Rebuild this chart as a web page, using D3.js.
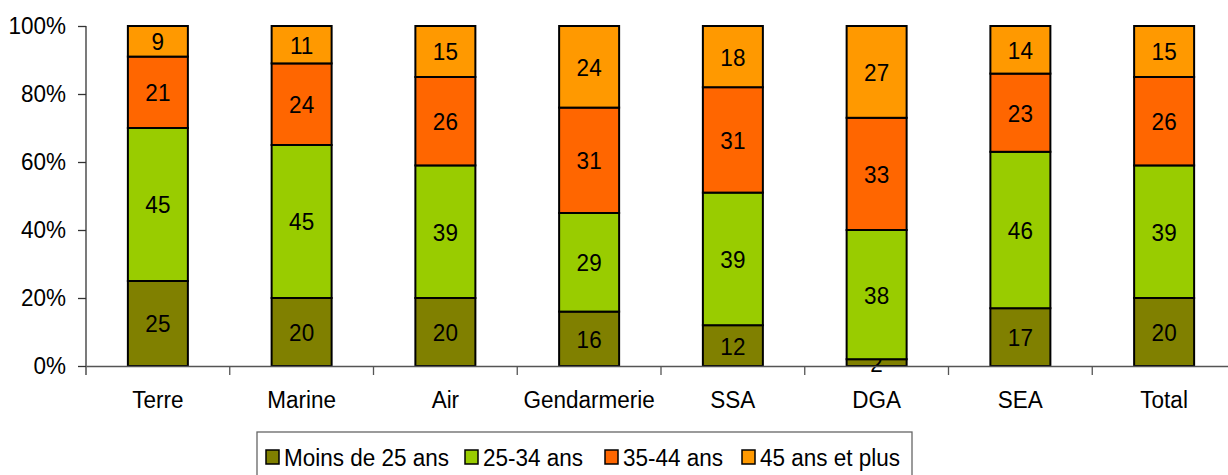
<!DOCTYPE html>
<html>
<head>
<meta charset="utf-8">
<script src="https://cdn.jsdelivr.net/npm/d3@7"></script>
<style>
  html, body { margin: 0; padding: 0; background: #fff; }
  svg { display: block; font-family: "Liberation Sans", Arial, sans-serif; }
</style>
</head>
<body>
<svg id="chart" width="1228" height="475"></svg>
<script>
// Répartition par tranche d'âge (en %)
const categories = ["Terre", "Marine", "Air", "Gendarmerie", "SSA", "DGA", "SEA", "Total"];
const seriesNames = ["Moins de 25 ans", "25-34 ans", "35-44 ans", "45 ans et plus"];
const moins25 = [25, 20, 20, 16, 12, 2, 17, 20];
const de25a34 = [45, 45, 39, 29, 39, 38, 46, 39];
const de35a44 = [21, 24, 26, 31, 31, 33, 23, 26];
const plus45  = [9, 11, 15, 24, 18, 27, 14, 15];
const yTicks = [0, 20, 40, 60, 80, 100];
const colors = ["#808000", "#99CC00", "#FF6600", "#FF9900"];

const seriesValues = [moins25, de25a34, de35a44, plus45];
const rows = categories.map((c, i) => {
  const r = { cat: c };
  seriesNames.forEach((s, k) => { r[s] = seriesValues[k][i]; });
  return r;
});

const FONT = "'Liberation Sans', Arial, sans-serif";
const FS = 22.5;      // font size
const SY = 1.1;       // slightly tall lettering

const svg = d3.select("#chart");
const plotLeft = 86, plotRight = 1236, plotTop = 26, plotBottom = 366;

const x = d3.scaleBand().domain(categories).range([plotLeft, plotRight]).paddingInner(0).paddingOuter(0);
const y = d3.scaleLinear().domain([0, 100]).range([plotBottom, plotTop]);
const barW = 60;

const stacked = d3.stack().keys(seriesNames)(rows);

// Bars
const layers = svg.append("g").selectAll("g")
  .data(stacked).join("g")
  .attr("fill", (d, i) => colors[i]);

layers.selectAll("rect")
  .data(d => d.map(v => ({ v, key: d.key })))
  .join("rect")
  .attr("x", d => x(d.v.data.cat) + x.bandwidth() / 2 - barW / 2)
  .attr("width", barW)
  .attr("y", d => y(d.v[1]))
  .attr("height", d => y(d.v[0]) - y(d.v[1]))
  .attr("stroke", "#000")
  .attr("stroke-width", 2);

// Value labels
layers.selectAll("text")
  .data(d => d.map(v => ({ v, key: d.key })))
  .join("text")
  .attr("transform", d => `translate(${x(d.v.data.cat) + x.bandwidth() / 2},${(y(d.v[0]) + y(d.v[1])) / 2}) scale(1,${SY})`)
  .attr("dy", "0.36em")
  .attr("text-anchor", "middle")
  .attr("fill", "#000")
  .attr("font-size", FS)
  .text(d => d.v.data[d.key]);

// Y axis
const yAxis = svg.append("g")
  .attr("transform", `translate(${plotLeft},0)`)
  .call(d3.axisLeft(y).tickValues(yTicks).tickFormat(d => d + "%").tickSize(8).tickPadding(12).tickSizeOuter(0));
yAxis.select(".domain").attr("stroke", "#333").attr("stroke-width", 1.3)
  .attr("d", `M0,${plotTop}V${plotBottom + 9}`);
yAxis.selectAll(".tick line").attr("stroke", "#333").attr("stroke-width", 1.3);
yAxis.selectAll(".tick text").attr("font-size", FS).attr("fill", "#000")
  .attr("font-family", FONT).attr("transform", `scale(1,${SY})`);

// X axis
const xAxis = svg.append("g")
  .attr("transform", `translate(0,${plotBottom})`)
  .call(d3.axisBottom(x).tickSize(0).tickPadding(22).tickSizeOuter(0));
xAxis.select(".domain").attr("stroke", "#555").attr("stroke-width", 1.3);
xAxis.selectAll(".tick text").attr("font-size", FS).attr("fill", "#000")
  .attr("font-family", FONT).attr("transform", `scale(1,${SY})`);
// Category separators
svg.append("g").selectAll("line")
  .data(categories.slice(1))
  .join("line")
  .attr("x1", d => x(d)).attr("x2", d => x(d))
  .attr("y1", plotBottom).attr("y2", plotBottom + 9)
  .attr("stroke", "#555").attr("stroke-width", 1.3);

// Legend
const legend = svg.append("g").attr("transform", "translate(257,432)");
legend.append("rect")
  .attr("x", 0).attr("y", 0).attr("width", 655).attr("height", 60)
  .attr("fill", "#fff").attr("stroke", "#666").attr("stroke-width", 1.3);
const legendX = [9, 208, 348, 485];
const items = legend.selectAll("g.item")
  .data(seriesNames).join("g")
  .attr("class", "item")
  .attr("transform", (d, i) => `translate(${legendX[i]},0)`);
items.append("rect")
  .attr("x", 0).attr("y", 18).attr("width", 13).attr("height", 14)
  .attr("fill", (d, i) => colors[i]).attr("stroke", "#000").attr("stroke-width", 1.5);
items.append("text")
  .attr("transform", `translate(18,25) scale(1,${SY})`)
  .attr("dy", "0.36em")
  .attr("font-size", FS).attr("fill", "#000")
  .text(d => d);
</script>
</body>
</html>
